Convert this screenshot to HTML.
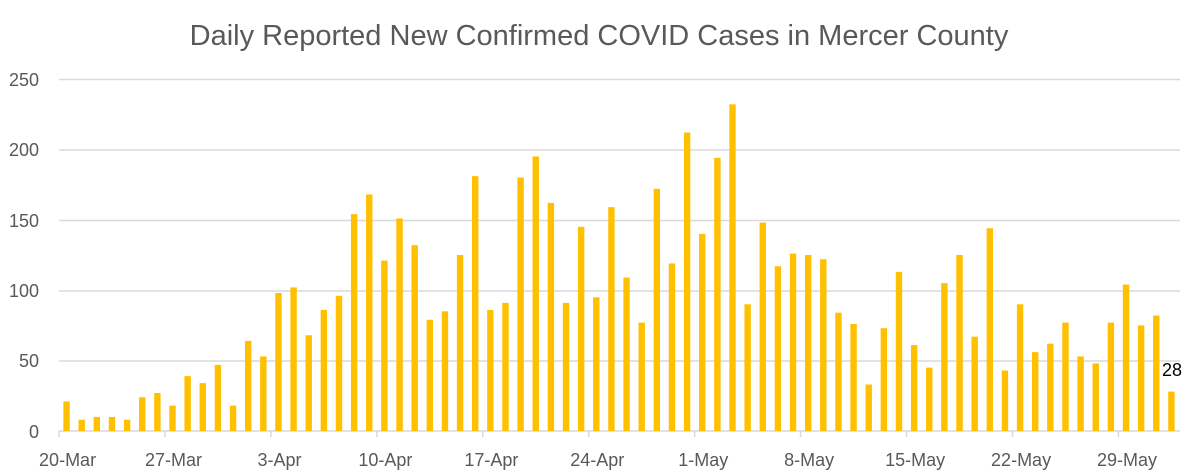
<!DOCTYPE html>
<html><head><meta charset="utf-8"><style>
html,body{margin:0;padding:0;background:#fff;}
svg{display:block;}
text{font-family:"Liberation Sans",sans-serif;fill:#595959;}
</style></head><body>
<svg width="1200" height="476" xmlns="http://www.w3.org/2000/svg">
<text x="599" y="45" text-anchor="middle" font-size="29">Daily Reported New Confirmed COVID Cases in Mercer County</text>
<g stroke="#d9d9d9" stroke-width="1.5">
<line x1="59" x2="1180" y1="79.5" y2="79.5"/>
<line x1="59" x2="1180" y1="150" y2="150"/>
<line x1="59" x2="1180" y1="220.5" y2="220.5"/>
<line x1="59" x2="1180" y1="291" y2="291"/>
<line x1="59" x2="1180" y1="361" y2="361"/>
<line x1="59" x2="1180" y1="431" y2="431"/>
</g>
<g font-size="18" text-anchor="end">
<text x="39" y="86">250</text><text x="39" y="156">200</text><text x="39" y="227">150</text>
<text x="39" y="297">100</text><text x="39" y="367">50</text><text x="39" y="438">0</text>
</g>
<g id="bars" fill="#ffc000"></g>
<g stroke="#d9d9d9" stroke-width="1.5" id="ticks"></g>
<g font-size="18" text-anchor="middle" id="xl"></g>
<text x="1172" y="376" text-anchor="middle" font-size="18" style="fill:#000">28</text>
<script>
var v=[21,8,10,10,8,24,27,18,39,34,47,18,64,53,98,102,68,86,96,154,168,121,151,132,79,85,125,181,86,91,180,195,162,91,145,95,159,109,77,172,119,212,140,194,232,90,148,117,126,125,122,84,76,33,73,113,61,45,105,125,67,144,43,90,56,62,77,53,48,77,104,75,82,28];
var ns="http://www.w3.org/2000/svg",w=15.135,x0=59,b=431,k=1.408;
var g=document.getElementById('bars');
v.forEach(function(d,i){var r=document.createElementNS(ns,'rect');var c=x0+w*(i+0.5);r.setAttribute('x',c-3.2);r.setAttribute('width',6.4);r.setAttribute('y',b-d*k);r.setAttribute('height',d*k);g.appendChild(r);});
var L=['20-Mar','27-Mar','3-Apr','10-Apr','17-Apr','24-Apr','1-May','8-May','15-May','22-May','29-May'];
var t=document.getElementById('ticks'),xl=document.getElementById('xl');
L.forEach(function(s,j){var x=x0+w*7*j;var l=document.createElementNS(ns,'line');l.setAttribute('x1',x);l.setAttribute('x2',x);l.setAttribute('y1',431);l.setAttribute('y2',437);t.appendChild(l);
var tx=document.createElementNS(ns,'text');tx.setAttribute('x',x+w*0.5+1);tx.setAttribute('y',466);tx.textContent=s;xl.appendChild(tx);});
</script>
</svg>
</body></html>
